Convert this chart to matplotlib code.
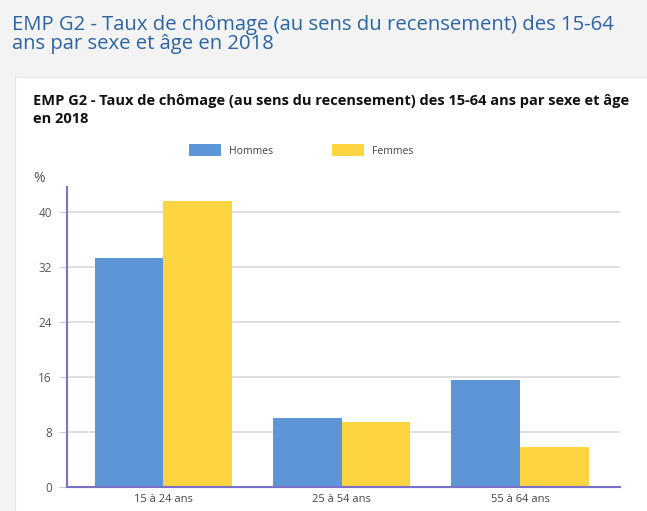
import matplotlib.pyplot as plt
from matplotlib.patches import Rectangle
import numpy as np

plt.rcParams['font.family'] = ['Open Sans', 'DejaVu Sans']

# données
categories = ['15 à 24 ans', '25 à 54 ans', '55 à 64 ans']
hommes = [33.3, 10.0, 15.6]
femmes = [41.5, 9.5, 5.8]
yticks = [0, 8, 16, 24, 32, 40]

c_h = '#5e95d6'
c_f = '#fed441'
c_axis = '#7a72c8'

fig = plt.figure(figsize=(6.47, 5.11), dpi=100, facecolor='#f3f3f3')

# carte blanche
fig.patches.append(Rectangle((15/647, 0), 1, 1 - 77/511, transform=fig.transFigure,
                             facecolor='white', edgecolor='#e6e6e6', lw=0.8, zorder=-10))

fig.text(12/647, 1 - 15/511, "EMP G2 - Taux de chômage (au sens du recensement) des 15-64\nans par sexe et âge en 2018",
         ha='left', va='top', fontsize=14.6, color='#2b64a2', linespacing=0.9)
fig.text(33/647, 1 - 94/511, "EMP G2 - Taux de chômage (au sens du recensement) des 15-64 ans par sexe et âge\nen 2018",
         ha='left', va='top', fontsize=10.5, fontweight='bold', color='#111111', linespacing=1.35)

ax = fig.add_axes([67/647, 1 - 487/511, (620 - 67)/647, (487 - 187)/511])
x = np.arange(len(categories))
w = 0.385
ax.bar(x - w/2, hommes, w, color=c_h, label='Hommes', zorder=2)
ax.bar(x + w/2, femmes, w, color=c_f, label='Femmes', zorder=2)

ax.set_xlim(-0.54, 2.56)
ax.set_ylim(0, 43.6)
ax.set_yticks(yticks)
ax.set_xticks(x)
ax.set_xticklabels(categories)
ax.yaxis.grid(True, color='#d9d9d9', lw=1.2, zorder=0)
for s in ['top', 'right']:
    ax.spines[s].set_visible(False)
ax.spines['left'].set_color(c_axis)
ax.spines['bottom'].set_color(c_axis)
ax.spines['left'].set_linewidth(1.5)
ax.spines['bottom'].set_linewidth(1.5)
ax.tick_params(axis='y', length=6, color='#cccccc', labelsize=8.5, labelcolor='#555555', pad=5)
ax.tick_params(axis='x', length=0, labelsize=8, labelcolor='#444444', pad=5)

fig.text(33/647, 1 - 178/511, '%', ha='left', va='center', fontsize=10, color='#555555')

ax.legend(loc='upper left', bbox_to_anchor=(180/647, 1 - 135/511), bbox_transform=fig.transFigure,
          ncol=2, frameon=False, fontsize=7.5, handlelength=3.0, handleheight=1.3,
          columnspacing=5.7, handletextpad=0.8, labelcolor='#444444')

fig.savefig('out.png', dpi=100, facecolor=fig.get_facecolor())
